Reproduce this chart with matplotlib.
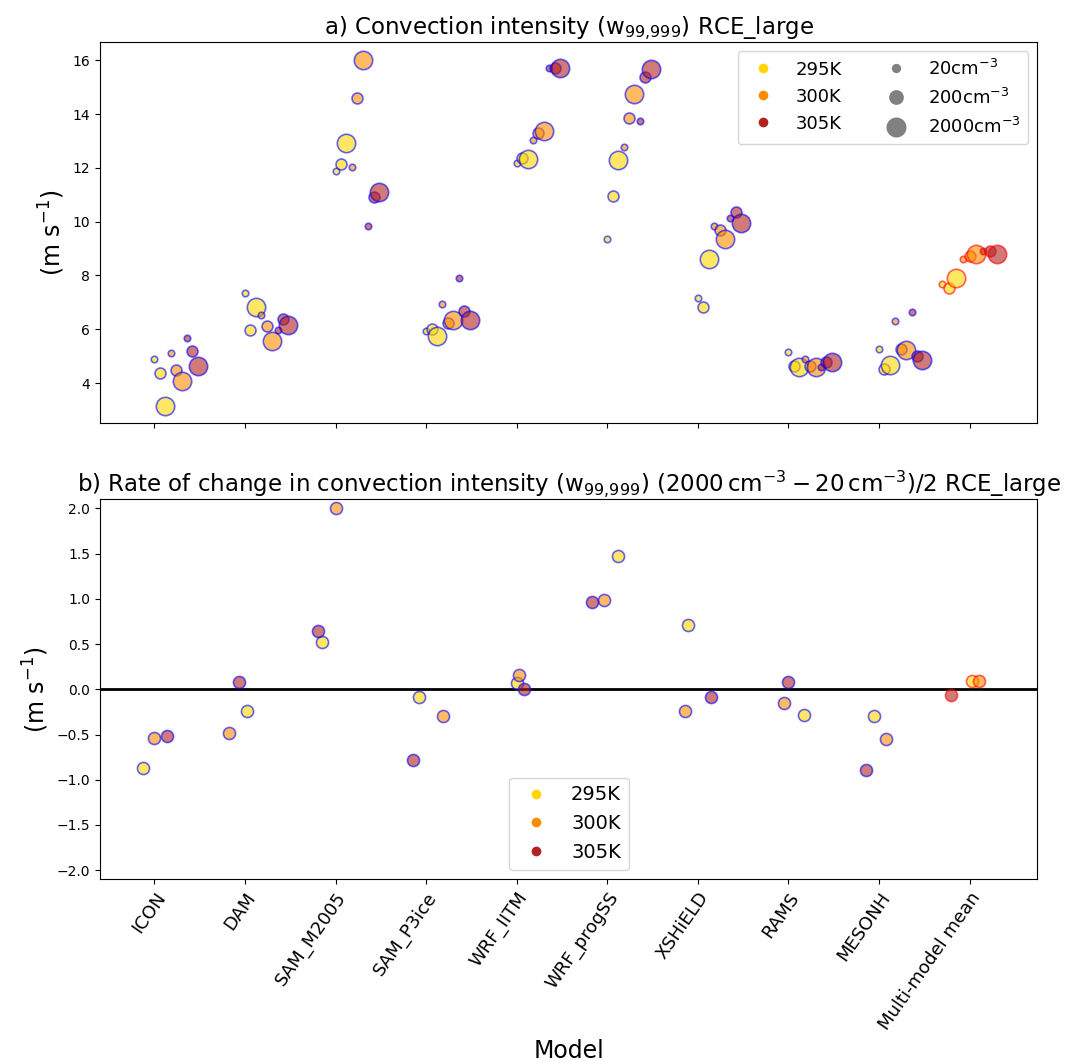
import numpy as np
import matplotlib.pyplot as plt
from matplotlib.lines import Line2D

# ---------------------------------------------------------------------------
# Data
# ---------------------------------------------------------------------------

models = ["ICON", "DAM", "SAM_M2005", "SAM_P3ice", "WRF_IITM", "WRF_progSS",
          "XSHiELD", "RAMS", "MESONH", "Multi-model mean"]
temps = ["295K", "300K", "305K"]
concs = ["20", "200", "2000"]

# w99.999 (m/s), one row per model, columns = 20, 200, 2000 cm-3
w_295 = [[4.90, 4.36, 3.15], [7.33, 5.96, 6.84], [11.89, 12.14, 12.93],
         [5.93, 6.01, 5.75], [12.19, 12.37, 12.33], [9.35, 10.94, 12.29],
         [7.17, 6.82, 8.60], [5.15, 4.64, 4.58], [5.25, 4.52, 4.67],
         [7.70, 7.52, 7.89]]
w_300 = [[5.13, 4.48, 4.06], [6.52, 6.11, 5.55], [12.03, 14.60, 16.03],
         [6.94, 6.22, 6.34], [13.05, 13.31, 13.37], [12.76, 13.87, 14.74],
         [9.83, 9.68, 9.34], [4.88, 4.64, 4.58], [6.32, 5.25, 5.23],
         [8.61, 8.72, 8.79]]
w_305 = [[5.66, 5.20, 4.63], [5.98, 6.37, 6.14], [9.83, 10.91, 11.12],
         [7.89, 6.68, 6.33], [15.73, 15.73, 15.73], [13.75, 15.38, 15.67],
         [10.12, 10.35, 9.96], [4.61, 4.79, 4.78], [6.64, 5.00, 4.86],
         [8.92, 8.91, 8.79]]

# ---------------------------------------------------------------------------
# Style
# ---------------------------------------------------------------------------

TEMP_COLORS = ["gold", "darkorange", "firebrick"]
SIZES_TOP = [22, 62, 175]
SIZE_BOT = 76
ALPHA = 0.6

# horizontal jitter of the rate points (per model, per temperature)
rate_jitter = [[-0.13, 0.0, 0.135], [0.027, -0.18, -0.066], [-0.147, 0.008, -0.19],
               [-0.08, 0.19, -0.15], [0.0, 0.03, 0.08], [0.12, -0.04, -0.17],
               [-0.11, -0.14, 0.15], [0.17, -0.045, 0.0], [-0.06, 0.08, -0.14],
               [0.03, 0.1, -0.2]]

w_all = np.array([w_295, w_300, w_305])          # (temp, model, conc)
rate = (w_all[:, :, 2] - w_all[:, :, 0]) / 2.0   # (temp, model)

fig = plt.figure(figsize=(10.77, 10.61), dpi=100)
ax1 = fig.add_axes([0.0929, 0.601, 0.8704, 0.3591])
ax2 = fig.add_axes([0.0929, 0.1713, 0.8704, 0.3581])

x = np.arange(len(models))
n_mod = len(models)

# ---------------------------------------------------------------------------
# Panel a
# ---------------------------------------------------------------------------
for m in range(n_mod):
    last = (m == n_mod - 1)
    edge = "red" if last else "blue"
    for t in range(3):
        for c in range(3):
            k = 3 * t + c
            off = -0.3 + 0.075 * k if last else 0.06 * k
            ax1.scatter(x[m] + off, w_all[t, m, c], s=SIZES_TOP[c],
                        c=TEMP_COLORS[t], edgecolors=edge, linewidths=1.2,
                        alpha=ALPHA, zorder=3)

ax1.set_xlim(-0.6, 9.75)
ax1.set_ylim(2.5, 16.67)
ax1.set_xticks(x)
ax1.set_xticklabels([])
ax1.set_yticks([4, 6, 8, 10, 12, 14, 16])
ax1.tick_params(labelsize=10)
ax1.set_ylabel("(m s$^{-1}$)", fontsize=17)
ax1.set_title("a) Convection intensity (w$_{99{,}999}$) RCE_large", fontsize=16.5)

handles = [Line2D([], [], ls="", marker="o", ms=7, color=col, mec="none")
           for col in TEMP_COLORS]
handles += [Line2D([], [], ls="", marker="o", ms=ms, color="gray", mec="none")
            for ms in [6.7, 10.6, 14.4]]
labels = temps + [f"{c}cm$^{{-3}}$" for c in concs]
ax1.legend(handles, labels, ncol=2, loc="upper right", fontsize=13,
           columnspacing=2.0)

# ---------------------------------------------------------------------------
# Panel b
# ---------------------------------------------------------------------------
ax2.axhline(0, color="black", lw=2, zorder=1)
for m in range(n_mod):
    edge = "red" if m == n_mod - 1 else "blue"
    for t in range(3):
        ax2.scatter(x[m] + rate_jitter[m][t], rate[t, m], s=SIZE_BOT,
                    c=TEMP_COLORS[t], edgecolors=edge, linewidths=1.2,
                    alpha=ALPHA, zorder=3)

ax2.set_xlim(-0.6, 9.75)
ax2.set_ylim(-2.1, 2.1)
ax2.set_yticks(np.arange(-2.0, 2.01, 0.5))
ax2.set_xticks(x)
ax2.set_xticklabels(models, rotation=55, fontsize=13, ha="right",
                    rotation_mode="anchor")
ax2.tick_params(axis="y", labelsize=10)
ax2.set_ylabel("(m s$^{-1}$)", fontsize=17)
ax2.set_xlabel("Model", fontsize=17)
ax2.set_title("b) Rate of change in convection intensity (w$_{99{,}999}$) "
              "(2000$\\,$cm$^{-3} - 20\\,$cm$^{-3}$)/2 RCE_large", fontsize=16.5)

handles2 = [Line2D([], [], ls="", marker="o", ms=7, color=col, mec="none")
            for col in TEMP_COLORS]
ax2.legend(handles2, temps, loc="lower center", fontsize=14)

plt.savefig("out.png", dpi=100)
plt.close(fig)
